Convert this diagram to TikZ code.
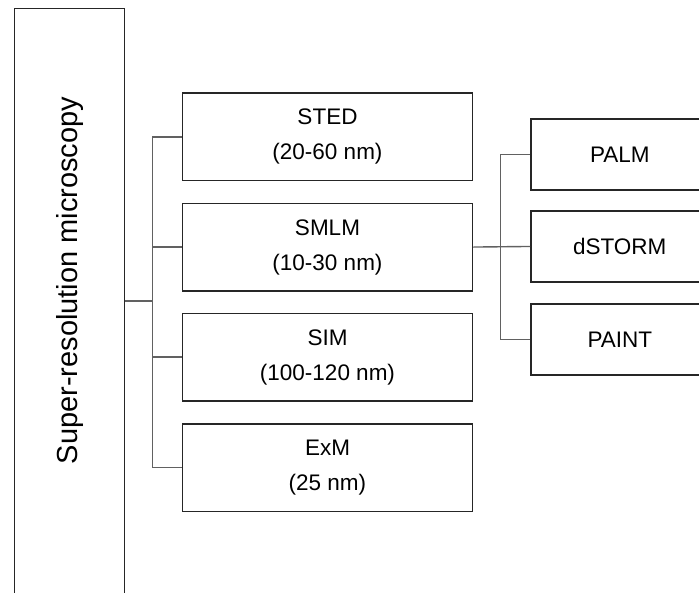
\documentclass[tikz,border=0pt]{standalone}
\usepackage{fontspec}
\setmainfont{Liberation Sans}
\begin{document}
\begin{tikzpicture}[x=1pt,y=-1pt,
  boxline/.style={draw=black!85, line width=1.6pt},
  midbox/.style={boxline, anchor=north west, minimum width=290pt, minimum height=87.5pt, inner sep=0pt, align=center, font=\fontsize{22.5}{35}\selectfont},
  subbox/.style={boxline, anchor=north west, minimum width=178pt, minimum height=70.7pt, inner sep=0pt, font=\fontsize{22.5}{26}\selectfont},
  conn/.style={draw=black!62, line width=1.4pt}]
\useasboundingbox (0,0) rectangle (699,592);
\clip (0,0) rectangle (699,592);
\node[boxline, anchor=north west, minimum width=110pt, minimum height=620pt, inner sep=0pt] (root) at (13.5,7.7) {};
\node[rotate=90, font=\fontsize{29}{32}\selectfont] (title) at (70,280.5) {Super-resolution microscopy};
\node[midbox] (sted) at (181.7,92.3) {STED\\(20-60 nm)};
\node[midbox] (smlm) at (181.7,202.5) {SMLM\\(10-30 nm)};
\node[midbox] (sim) at (181.7,312.5) {SIM\\(100-120 nm)};
\node[midbox] (exm) at (181.7,423) {ExM\\(25 nm)};
\node[subbox] (palm) at (530,118.3) {PALM};
\node[subbox] (dstorm) at (530,210.3) {dSTORM};
\node[subbox] (paint) at (530,303.3) {PAINT};
\coordinate (rj) at (152.3,301);
\coordinate (sj) at (500.7,246);
\draw[conn] (root.east |- rj) -- (rj);
\draw[conn] (sted.west) -| (rj);
\draw[conn] (smlm.west) -| (rj);
\draw[conn] (sim.west) -| (rj);
\draw[conn] (exm.west) -| (rj);
\draw[conn] (smlm.east) -- (dstorm.west);
\draw[conn] (palm.west) -| (sj);
\draw[conn] (paint.west) -| (sj);
\end{tikzpicture}
\end{document}
